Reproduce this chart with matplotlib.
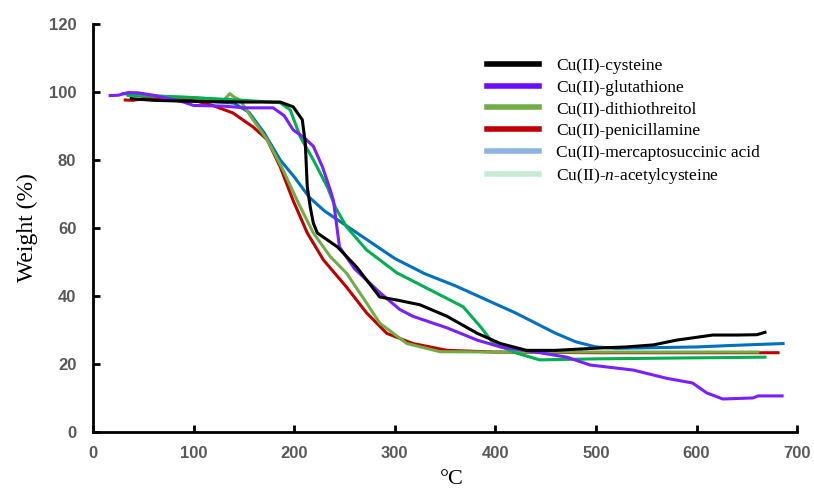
import matplotlib
matplotlib.use("Agg")
import matplotlib.pyplot as plt
from matplotlib.lines import Line2D

plt.rcParams['mathtext.fontset'] = 'custom'
plt.rcParams['mathtext.it'] = 'Liberation Serif:italic'
plt.rcParams['mathtext.rm'] = 'Liberation Serif'

# ---- data ----
cys_x = [38, 60, 100, 150, 186, 199, 208, 211, 213, 216, 219, 223, 243, 262, 285, 302, 325, 352, 382, 405, 431, 460, 504, 530, 557, 580, 616, 640, 660, 668]
cys_y = [98, 97.5, 97.2, 97, 97, 95.6, 91.8, 85, 72, 66, 61.4, 58.5, 54.4, 48.5, 39.7, 38.8, 37.4, 34, 29, 26, 24, 24, 24.7, 25, 25.6, 27, 28.5, 28.5, 28.6, 29.3]

glu_x = [17, 25, 35, 45, 60, 90, 100, 130, 150, 179, 190, 199, 210, 219, 228, 236, 239, 245, 260, 285, 305, 318, 352, 382, 405, 440, 471, 494, 537, 570, 596, 610, 626, 656, 661, 685]
glu_y = [98.9, 99, 99.8, 99.7, 99, 97, 96, 95.8, 95.3, 95.3, 93, 88.8, 86.5, 84, 78, 71, 68, 54.4, 48, 41, 36, 34, 30.6, 27, 25, 23.5, 22, 19.7, 18.2, 15.8, 14.4, 11.5, 9.7, 10, 10.6, 10.6]

dtt_x = [35, 60, 100, 130, 136, 140, 146, 159, 173, 189, 203, 219, 236, 252, 272, 285, 312, 345, 400, 500, 600, 661]
dtt_y = [99, 98.8, 98.3, 97.5, 99.5, 98.5, 97.6, 91.8, 86, 77, 68, 58.5, 51.5, 46.7, 37.9, 32, 26, 23.6, 23.5, 23.5, 23.5, 23.5]

pen_x = [32, 40, 50, 100, 119, 139, 159, 173, 186, 199, 213, 229, 252, 272, 292, 318, 352, 400, 500, 600, 681]
pen_y = [97.6, 97.5, 98, 97.5, 96, 93.8, 89.7, 86, 78, 68, 58.5, 50.6, 42.6, 35, 29, 26, 24, 23.5, 23.3, 23.3, 23.3]

msa_x = [30, 60, 100, 140, 155, 170, 186, 200, 215, 230, 250, 270, 300, 330, 360, 390, 420, 440, 460, 480, 500, 520, 560, 600, 640, 686]
msa_y = [99.5, 98.5, 97.5, 96.7, 94, 88, 80, 75, 69, 65, 61, 57, 51, 46.5, 43, 39, 35, 32, 29, 26.5, 25, 24.6, 24.8, 25, 25.5, 26]

nac_x = [35, 60, 100, 150, 186, 196, 206, 219, 233, 241, 252, 272, 302, 335, 368, 385, 398, 421, 444, 500, 600, 668]
nac_y = [99, 98.8, 98.3, 97.5, 96.8, 94.7, 86.8, 80, 72, 66, 60.3, 53.5, 46.8, 41.8, 36.8, 31, 26, 23.2, 21.2, 21.5, 21.8, 22]

labels = ["Cu(II)-cysteine", "Cu(II)-glutathione", "Cu(II)-dithiothreitol",
          "Cu(II)-penicillamine", "Cu(II)-mercaptosuccinic acid",
          "Cu(II)-$\\it{n}$-acetylcysteine"]
x_ticks = [0, 100, 200, 300, 400, 500, 600, 700]
y_ticks = [0, 20, 40, 60, 80, 100, 120]

# ---- styling ----
line_colors = ['#000000', '#7A1FFF', '#70AD47', '#C00000', '#0070C0', '#00B050']
legend_colors = ['#000000', '#6A0DFF', '#70AD47', '#C00000', '#8DB4E2', '#C6EBD3']

fig = plt.figure(figsize=(8.14, 4.9), dpi=100)
ax = fig.add_axes([0.1143, 0.1184, 0.865, 0.833])

series = [(cys_x, cys_y), (glu_x, glu_y), (dtt_x, dtt_y), (pen_x, pen_y), (msa_x, msa_y), (nac_x, nac_y)]
order = [4, 3, 2, 5, 1, 0]
for i in order:
    xs, ys = series[i]
    ax.plot(xs, ys, color=line_colors[i], lw=2.2, solid_joinstyle='round', zorder=3)

ax.set_xlim(0, 700)
ax.set_ylim(0, 120)
ax.set_xticks(x_ticks)
ax.set_yticks(y_ticks)
for s in ['top', 'right']:
    ax.spines[s].set_visible(False)
for s in ['left', 'bottom']:
    ax.spines[s].set_linewidth(2)
ax.tick_params(direction='in', length=5, width=2, colors='black', labelcolor='#595959', labelsize=12, pad=10)
for lab in ax.get_xticklabels() + ax.get_yticklabels():
    lab.set_fontfamily('Liberation Sans')
    lab.set_fontweight('bold')
ax.tick_params(axis='y', pad=12)

ax.set_ylabel("Weight (%)", family='Liberation Serif', fontsize=17, labelpad=8)
fig.text(0.555, 0.002, "°C", family='Liberation Serif', fontsize=16, ha='center', va='bottom')

handles = [Line2D([0], [0], color=c, lw=4) for c in legend_colors]
leg = ax.legend(handles, labels, loc='upper left', bbox_to_anchor=(0.537, 0.955), frameon=False,
                prop={'family': 'Liberation Serif', 'size': 12.5}, handlelength=3.0,
                handletextpad=1.0, labelspacing=0.32)

fig.savefig("out.png", dpi=100)
